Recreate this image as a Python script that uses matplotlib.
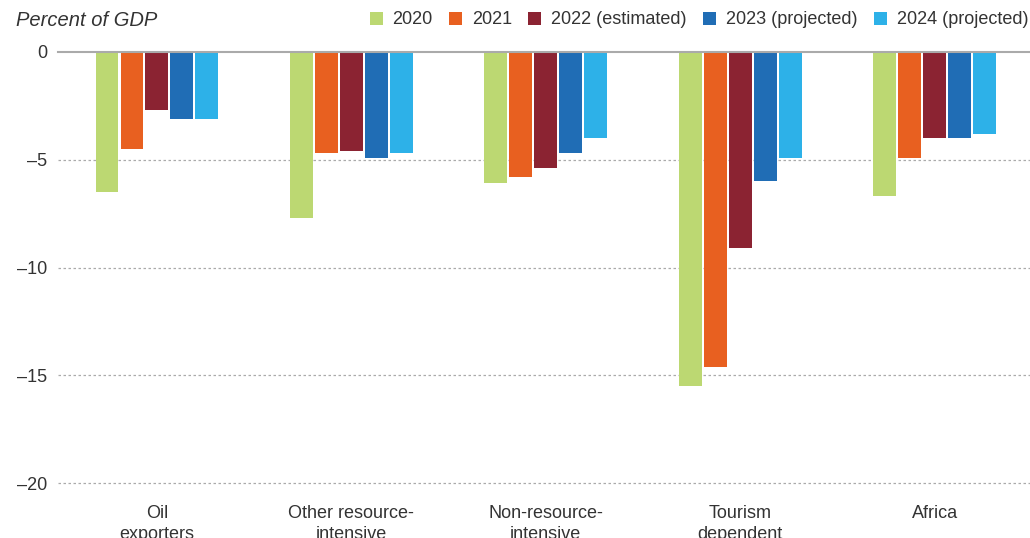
import matplotlib
matplotlib.use("Agg")
import matplotlib.pyplot as plt
import numpy as np
from matplotlib.patches import Patch

plt.rcParams['font.family'] = ['Liberation Sans', 'DejaVu Sans']

categories = ["Oil\nexporters", "Other resource-\nintensive", "Non-resource-\nintensive", "Tourism\ndependent", "Africa"]
series_names = ["2020", "2021", "2022 (estimated)", "2023 (projected)", "2024 (projected)"]
v2020 = [-6.5, -7.7, -6.1, -15.5, -6.7]
v2021 = [-4.5, -4.7, -5.8, -14.6, -4.9]
v2022 = [-2.7, -4.6, -5.4, -9.1, -4.0]
v2023 = [-3.1, -4.9, -4.7, -6.0, -4.0]
v2024 = [-3.1, -4.7, -4.0, -4.9, -3.8]
yticks = [0, -5, -10, -15, -20]
ytick_labels = ["0", "\u20135", "\u201310", "\u201315", "\u201320"]

colors = ["#BCD872", "#E86020", "#8B2332", "#206DB5", "#2DB1E8"]
values = [v2020, v2021, v2022, v2023, v2024]

fig = plt.figure(figsize=(10.3, 5.38), dpi=100)
ax = fig.add_axes([58/1030, 1-483/538, 1-58/1030, (483-52)/538])

x = np.arange(len(categories))
step = 0.1285
width = 0.118
for i, (vals, c, name) in enumerate(zip(values, colors, series_names)):
    ax.bar(x + (i - 2) * step, vals, width=width, color=c, label=name, zorder=3)

ax.set_xlim(-0.509, 4.49)
ax.set_ylim(-20, 0)
ax.set_yticks(yticks)
ax.set_yticklabels(ytick_labels)
for yv in yticks[1:]:
    ax.axhline(yv, color="#aaaaaa", linestyle=(0, (2, 2)), linewidth=0.9, zorder=1, clip_on=False)
ax.axhline(0, color="#aaaaaa", linewidth=1.5, zorder=4, clip_on=False)

ax.set_xticks(x)
ax.set_xticklabels(categories, va="top", linespacing=1.3)
ax.tick_params(axis='both', length=0, labelsize=13, colors="#333333")
ax.tick_params(axis='y', pad=8)
ax.tick_params(axis='x', pad=16)
for s in ax.spines.values():
    s.set_visible(False)

fig.text(16/1030, 1-20/538, "Percent of GDP", style="italic", fontsize=14.5,
         color="#333333", va="center", ha="left")

handles = [Patch(facecolor=c, edgecolor='none') for c in colors]
leg = fig.legend(handles, series_names, loc="center right", bbox_to_anchor=(1.0, 1-20/538),
                 ncol=5, frameon=False, fontsize=13, handlelength=0.72, handleheight=0.72,
                 handletextpad=0.55, columnspacing=0.9, borderaxespad=0, borderpad=0.1)
for t in leg.get_texts():
    t.set_color("#333333")

fig.savefig("out.png", dpi=100)
